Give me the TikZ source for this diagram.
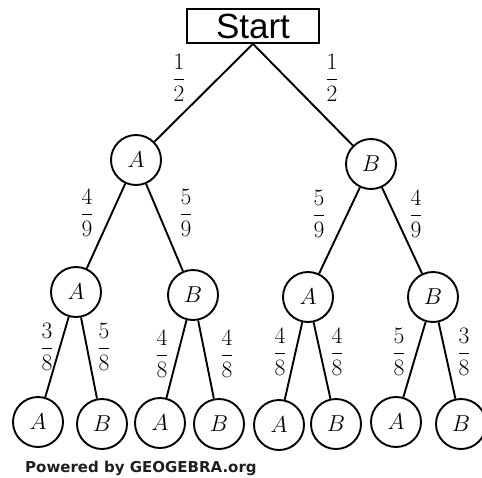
\RequirePackage{fix-cm}
\documentclass[tikz,border=0pt]{standalone}
\usepackage{amsmath}
\usepackage{fontspec}
\newfontfamily\startfont{Liberation Sans}
\newfontfamily\footfont{DejaVu Sans Bold}
\begin{document}
\begin{tikzpicture}[x=1pt,y=-1pt,
  state/.style={circle, draw, line width=1.9pt, minimum size=50pt, inner sep=0pt,
                font=\fontsize{23}{27}\selectfont},
  prob/.style={inner sep=0pt, font=\fontsize{23.5}{27}\selectfont},
  branch/.style={line width=1.9pt}]
  \useasboundingbox[fill=white] (0,0) rectangle (482,477);

  % root
  \node[draw, line width=1.7pt, minimum width=132pt, minimum height=34pt, inner sep=0pt,
        font=\startfont\fontsize{35}{38}\selectfont] (start) at (253,26) {Start};

  % first stage
  \node[state] (a) at (136,160) {$A$};
  \node[state] (b) at (371,164) {$B$};

  % second stage
  \node[state] (aa) at (76,292) {$A$};
  \node[state] (ab) at (193,295) {$B$};
  \node[state] (ba) at (308,297) {$A$};
  \node[state] (bb) at (433,297) {$B$};

  % third stage
  \node[state] (aaa) at (38,422) {$A$};
  \node[state] (aab) at (102,424) {$B$};
  \node[state] (aba) at (160,423) {$A$};
  \node[state] (abb) at (219,424) {$B$};
  \node[state] (baa) at (279,425) {$A$};
  \node[state] (bab) at (336,424) {$B$};
  \node[state] (bba) at (396,422) {$A$};
  \node[state] (bbb) at (461,424) {$B$};

  % branches
  \draw[branch] (start.south) -- (a);
  \draw[branch] (start.south) -- (b);
  \draw[branch] (a) -- (aa);
  \draw[branch] (a) -- (ab);
  \draw[branch] (b) -- (ba);
  \draw[branch] (b) -- (bb);
  \draw[branch] (aa) -- (aaa);
  \draw[branch] (aa) -- (aab);
  \draw[branch] (ab) -- (aba);
  \draw[branch] (ab) -- (abb);
  \draw[branch] (ba) -- (baa);
  \draw[branch] (ba) -- (bab);
  \draw[branch] (bb) -- (bba);
  \draw[branch] (bb) -- (bbb);

  % probabilities
  \node[prob] (p1) at (179,78) {$\dfrac{1}{2}$};
  \node[prob] (p2) at (332,78) {$\dfrac{1}{2}$};
  \node[prob] (p3) at (87,213) {$\dfrac{4}{9}$};
  \node[prob] (p4) at (186,213) {$\dfrac{5}{9}$};
  \node[prob] (p5) at (319,214) {$\dfrac{5}{9}$};
  \node[prob] (p6) at (416,214) {$\dfrac{4}{9}$};
  \node[prob] (p7) at (47,347) {$\dfrac{3}{8}$};
  \node[prob] (p8) at (104,347) {$\dfrac{5}{8}$};
  \node[prob] (p9) at (162,354) {$\dfrac{4}{8}$};
  \node[prob] (p10) at (227,354) {$\dfrac{4}{8}$};
  \node[prob] (p11) at (280,352) {$\dfrac{4}{8}$};
  \node[prob] (p12) at (337,352) {$\dfrac{4}{8}$};
  \node[prob] (p13) at (399,352) {$\dfrac{5}{8}$};
  \node[prob] (p14) at (464,352) {$\dfrac{3}{8}$};

  % footer
  \node[anchor=west, inner sep=0pt, text=black!88, font=\footfont\fontsize{15}{17}\selectfont]
    (credit) at (25,468) {Powered by GEOGEBRA.org};
\end{tikzpicture}
\end{document}
